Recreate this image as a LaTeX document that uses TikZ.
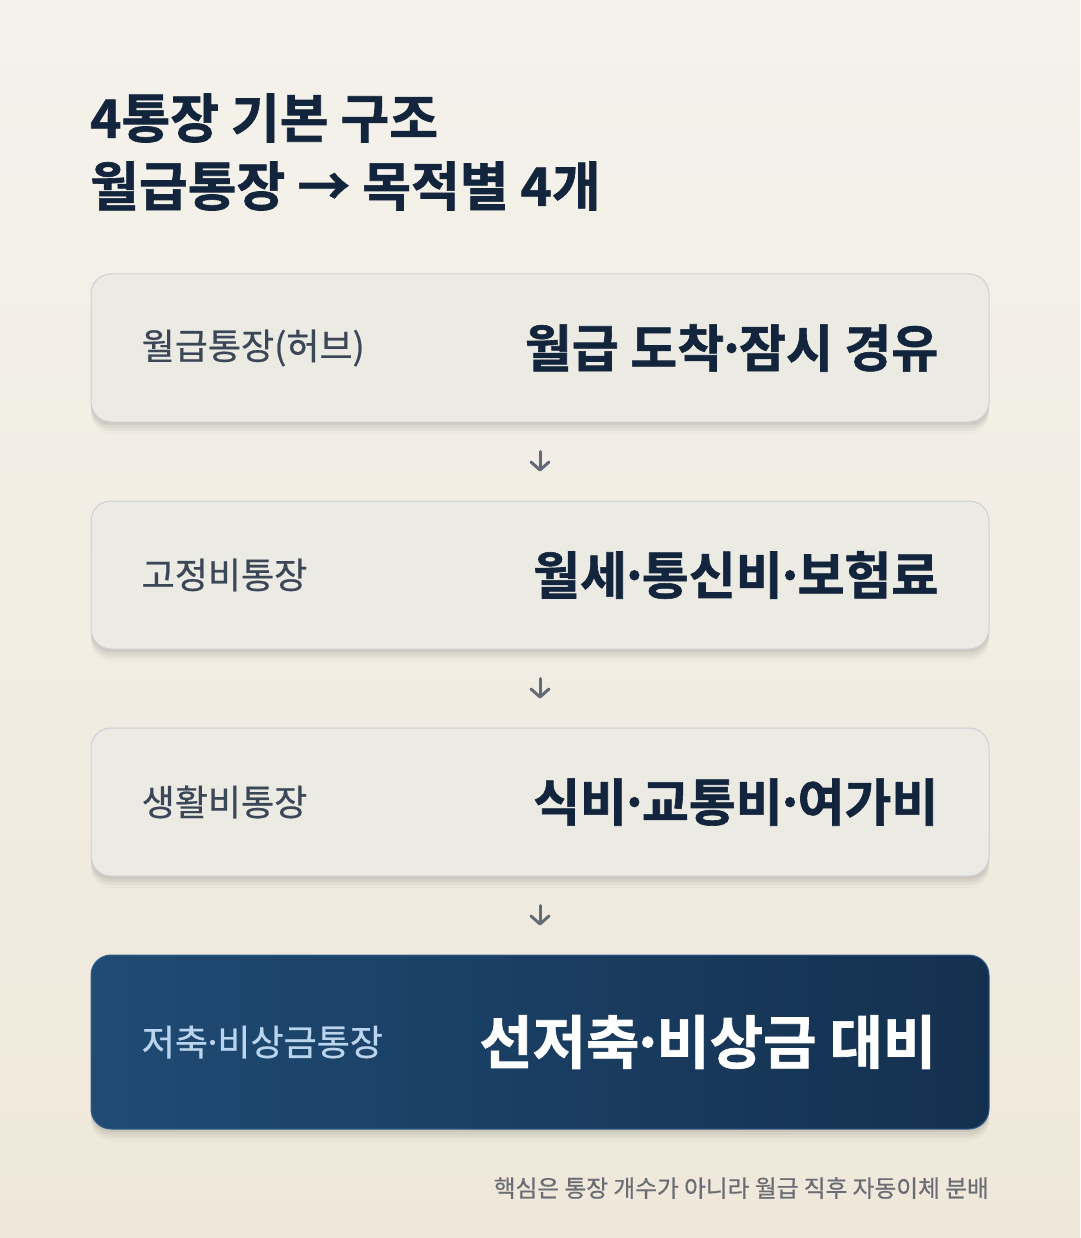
\documentclass[tikz,border=0pt]{standalone}
\usepackage{fontspec}
\setmainfont{Noto Sans CJK KR}[BoldFont={Noto Sans CJK KR Bold}]
\newfontfamily\heavyfont{Noto Sans CJK KR Bold}[FakeBold=1.2]
\newfontfamily\medfont{Noto Sans CJK KR}[FakeBold=0.6]
\usetikzlibrary{arrows.meta,shadows}
\newcommand\md{\hspace{-0.15em}·\hspace{-0.15em}}
\definecolor{bgtop}{HTML}{F4F2EB}
\definecolor{bgbot}{HTML}{EFE8DA}
\definecolor{navy}{HTML}{13253C}
\definecolor{labelc}{HTML}{3B4657}
\definecolor{boxfill}{HTML}{EBEAE3}
\definecolor{boxline}{HTML}{CDCED6}
\definecolor{darkl}{HTML}{1F4B74}
\definecolor{darkr}{HTML}{14304F}
\definecolor{darkline}{HTML}{2F5D8C}
\definecolor{lightblue}{HTML}{BCD5EF}
\definecolor{footc}{HTML}{6A6D73}
\definecolor{arrowc}{HTML}{646B77}
\tikzset{
  card/.style={rounded corners=20pt, minimum width=898pt, line width=1pt,
    drop shadow={shadow xshift=0pt, shadow yshift=-3pt, opacity=0.05, fill=black},
    drop shadow={shadow xshift=0pt, shadow yshift=-6pt, opacity=0.045, fill=black},
    drop shadow={shadow xshift=0pt, shadow yshift=-9pt, opacity=0.035, fill=black},
    drop shadow={shadow xshift=0pt, shadow yshift=-12pt, opacity=0.02, fill=black}},
  lightcard/.style={card, draw=boxline, fill=boxfill, minimum height=148pt},
  darkcard/.style={card, draw=darkline, left color=darkl, right color=darkr, minimum height=174pt},
  leftlabel/.style={anchor=west, text=labelc, font=\medfont\fontsize{36}{42}\selectfont, inner sep=0pt},
  rightlabel/.style={anchor=east, text=navy, font=\heavyfont\fontsize{51}{58}\selectfont, inner sep=0pt},
  titletext/.style={anchor=west, text=navy, font=\heavyfont\fontsize{53}{60}\selectfont, inner sep=0pt},
  flow/.style={draw=arrowc, line width=3pt, line cap=round, -{Straight Barb[length=8pt,width=18pt,line width=3pt,round]}},
}
\begin{document}
\begin{tikzpicture}[x=1pt,y=-1pt]
\useasboundingbox (0,0) rectangle (1080,1238);
\shade[top color=bgtop, bottom color=bgbot] (0,0) rectangle (1080,1238);

\node[titletext] (t1) at (90,118) {4통장 기본 구조};
\node[titletext] (t2) at (90,186) {월급통장 → 목적별 4개};

\node[lightcard] (b1) at (540,348) {};
\node[lightcard] (b2) at (540,575) {};
\node[lightcard] (b3) at (540,802) {};
\node[darkcard] (b4) at (540,1042) {};

\node[leftlabel] (l1) at ([xshift=51pt]b1.west) {월급통장(허브)};
\node[rightlabel] (r1) at ([xshift=-51pt]b1.east) {월급 도착\md 잠시 경유};
\node[leftlabel] (l2) at ([xshift=51pt]b2.west) {고정비통장};
\node[rightlabel] (r2) at ([xshift=-51pt]b2.east) {월세\md 통신비\md 보험료};
\node[leftlabel] (l3) at ([xshift=51pt]b3.west) {생활비통장};
\node[rightlabel] (r3) at ([xshift=-51pt]b3.east) {식비\md 교통비\md 여가비};
\node[leftlabel, text=lightblue] (l4) at ([xshift=51pt]b4.west) {저축\md 비상금통장};
\node[rightlabel, text=white, font=\heavyfont\fontsize{58}{65}\selectfont] (r4) at ([xshift=-53pt]b4.east) {선저축\md 비상금 대비};

\draw[flow] ([yshift=-29pt]b1.south) -- ([yshift=29pt]b2.north);
\draw[flow] ([yshift=-29pt]b2.south) -- ([yshift=29pt]b3.north);
\draw[flow] ([yshift=-29pt]b3.south) -- ([yshift=29pt]b4.north);

\node[anchor=east, text=footc, font=\medfont\fontsize{23.7}{28}\selectfont, inner sep=0pt] (foot) at (989,1188) {핵심은 통장 개수가 아니라 월급 직후 자동이체 분배};
\end{tikzpicture}
\end{document}
